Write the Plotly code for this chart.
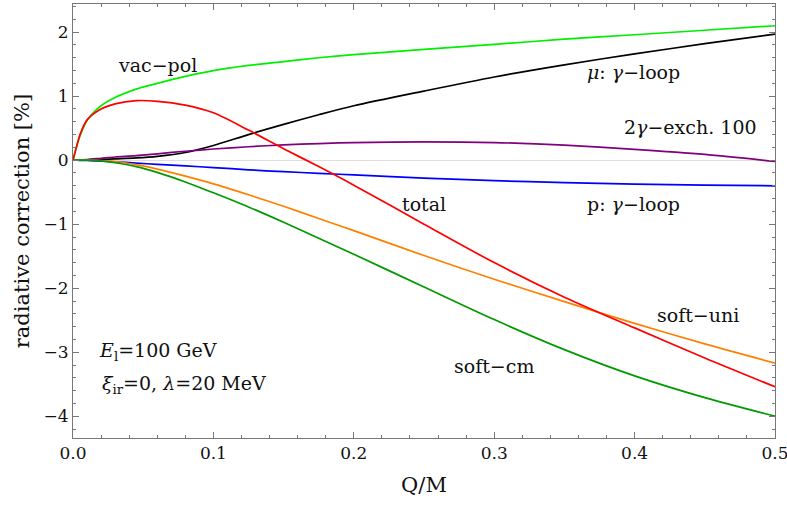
import plotly.graph_objects as go

# Q/M grid
q = [0, 0.003, 0.005, 0.01, 0.02, 0.03, 0.045, 0.06, 0.08, 0.1, 0.125, 0.15,
     0.175, 0.2, 0.25, 0.3, 0.35, 0.4, 0.45, 0.5]

vac_pol = [0, 0.25, 0.38, 0.62, 0.85, 0.98, 1.11, 1.20, 1.31, 1.40, 1.48, 1.54,
           1.60, 1.65, 1.73, 1.81, 1.89, 1.96, 2.03, 2.10]
mu_loop = [0, 0.0, 0.0, 0.0, 0.01, 0.02, 0.035, 0.06, 0.12, 0.23, 0.40, 0.56,
           0.71, 0.85, 1.08, 1.30, 1.49, 1.66, 1.82, 1.97]
two_gamma = [0, 0.004, 0.006, 0.01, 0.03, 0.05, 0.07, 0.10, 0.14, 0.175, 0.21, 0.24,
             0.26, 0.275, 0.285, 0.275, 0.235, 0.17, 0.09, -0.02]
p_loop = [0, -0.001, -0.002, -0.005, -0.015, -0.025, -0.045, -0.065, -0.09, -0.115, -0.15, -0.18,
          -0.205, -0.23, -0.28, -0.32, -0.35, -0.375, -0.39, -0.40]
total = [0, 0.25, 0.40, 0.63, 0.80, 0.88, 0.93, 0.92, 0.86, 0.74, 0.47, 0.18,
         -0.10, -0.39, -1.00, -1.60, -2.14, -2.62, -3.09, -3.54]
soft_uni = [0, 0, 0, 0, -0.005, -0.02, -0.07, -0.14, -0.25, -0.37, -0.54, -0.72,
            -0.91, -1.10, -1.49, -1.86, -2.21, -2.55, -2.87, -3.17]
soft_cm = [0, 0, 0, 0, -0.01, -0.04, -0.10, -0.19, -0.34, -0.51, -0.73, -0.97,
           -1.22, -1.47, -1.98, -2.49, -2.96, -3.37, -3.71, -4.00]

series = [
    ("vac-pol", vac_pol, "#00ee00"),
    ("mu loop", mu_loop, "#000000"),
    ("2gamma", two_gamma, "#800080"),
    ("p loop", p_loop, "#0000ff"),
    ("soft-uni", soft_uni, "#ff8000"),
    ("soft-cm", soft_cm, "#009900"),
    ("total", total, "#ff0000"),
]

labels = [
    ("vac−pol", 0.060, 1.49),
    ("<i>μ</i>: <i>γ</i>−loop", 0.399, 1.38),
    ("2<i>γ</i>−exch. 100", 0.440, 0.525),
    ("total", 0.250, -0.68),
    ("p: <i>γ</i>−loop", 0.399, -0.68),
    ("soft−uni", 0.445, -2.42),
    ("soft−cm", 0.300, -3.21),
    ("<i>E</i><sub>l</sub>=100 GeV", 0.0605, -2.99),
    ("<i>ξ</i><sub>ir</sub>=0, <i>λ</i>=20 MeV", 0.079, -3.51),
]

FONT = "DejaVu Serif"

fig = go.Figure()
for name, ys, col in series:
    fig.add_trace(go.Scatter(x=q, y=ys, mode="lines", name=name,
                             line=dict(color=col, width=1.7, shape="spline", smoothing=0.8),
                             showlegend=False, hoverinfo="skip"))

for txt, x, y in labels:
    fig.add_annotation(x=x, y=y, xref="x", yref="y", text=txt, showarrow=False,
                       font=dict(family=FONT, size=19, color="#111"))

axis_common = dict(showgrid=False, ticks="inside", mirror="ticks", showline=True,
                   linecolor="#777", linewidth=1, tickcolor="#777", ticklen=6,
                   automargin=False, ticklabeloverflow="allow",
                   tickfont=dict(family=FONT, size=17, color="#111"))

fig.update_xaxes(range=[0, 0.5], tickvals=[0, 0.1, 0.2, 0.3, 0.4, 0.5],
                 ticktext=["0.0", "0.1", "0.2", "0.3", "0.4", "0.5"],
                 zeroline=False,
                 minor=dict(ticks="inside", dtick=0.02, tick0=0, ticklen=3, tickcolor="#777"),
                 title=dict(text="Q/M", font=dict(family=FONT, size=21, color="#111"), standoff=14),
                 **axis_common)
fig.update_yaxes(range=[-4.34, 2.44], tickvals=[-4, -3, -2, -1, 0, 1, 2],
                 zeroline=True, zerolinecolor="#dddddd", zerolinewidth=1,
                 minor=dict(ticks="inside", dtick=0.2, tick0=0, ticklen=3, tickcolor="#777"),
                 title=dict(text="radiative correction [%]", font=dict(family=FONT, size=21, color="#111"), standoff=8),
                 **axis_common)

fig.update_layout(width=787, height=505, margin=dict(l=72.5, r=12, t=4, b=67),
                  plot_bgcolor="white", paper_bgcolor="white")

fig.write_html("out.html", config={"displayModeBar": False},
               post_script="document.body.style.margin='0px';document.body.style.overflow='hidden';")
